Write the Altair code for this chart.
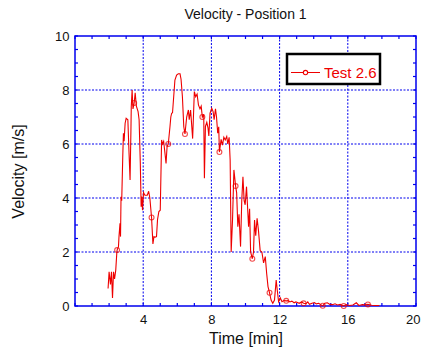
import altair as alt
import pandas as pd

# ---- data ----
time_min = [1.94, 2.0, 2.08, 2.14, 2.2, 2.26, 2.32, 2.39, 2.45, 2.47, 2.55, 2.58, 2.64, 2.67, 2.7,
            2.74, 2.8, 2.84, 2.88, 2.94, 3.0, 3.1, 3.17, 3.23, 3.28, 3.3, 3.35, 3.4, 3.47, 3.53,
            3.6, 3.7, 3.76, 3.83, 3.88, 3.92, 3.96, 4.02, 4.1, 4.16, 4.24, 4.32, 4.39, 4.49, 4.57,
            4.63, 4.7, 4.78, 4.84, 4.92, 5.0, 5.08, 5.13, 5.2, 5.27, 5.34, 5.4, 5.47, 5.57, 5.62,
            5.67, 5.72, 5.86, 5.96, 6.06, 6.16, 6.22, 6.3, 6.38, 6.45, 6.55, 6.65, 6.7, 6.78, 6.9,
            7.0, 7.08, 7.16, 7.24, 7.33, 7.4, 7.47, 7.55, 7.59, 7.65, 7.73, 7.8, 7.85, 7.92, 8.02,
            8.1, 8.16, 8.24, 8.3, 8.37, 8.43, 8.47, 8.57, 8.65, 8.73, 8.81, 8.9, 8.96, 9.04, 9.1,
            9.16, 9.24, 9.32, 9.42, 9.48, 9.55, 9.62, 9.71, 9.78, 9.85, 9.92, 9.98, 10.06, 10.18,
            10.24, 10.3, 10.4, 10.47, 10.53, 10.6, 10.68, 10.76, 10.86, 10.96, 11.06, 11.16, 11.24,
            11.32, 11.41, 11.5, 11.6, 11.7, 11.8, 11.86, 11.94, 12.04, 12.14, 12.25, 12.39, 12.5,
            12.6, 12.72, 12.85, 12.95, 13.05, 13.15, 13.28, 13.41, 13.55, 13.65, 13.75, 13.9, 14.05,
            14.15, 14.3, 14.4, 14.53, 14.65, 14.8, 14.95, 15.1, 15.25, 15.4, 15.55, 15.76, 15.9,
            16.1, 16.3, 16.5, 16.65, 16.85, 17.0, 17.18, 17.4, 17.6, 17.85]
velocity = [0.65, 1.27, 0.8, 1.27, 0.3, 1.27, 1.0, 1.33, 1.95, 2.07, 2.2, 2.57, 3.06, 2.57, 4.05,
            3.9, 5.5, 6.4, 6.1, 6.77, 6.95, 6.9, 5.65, 4.67, 6.5, 7.38, 8.0, 7.3, 7.52, 7.9,
            7.4, 7.2, 6.9, 5.3, 3.68, 4.05, 3.55, 4.2, 4.1, 4.1, 4.1, 4.25, 4.0, 3.28, 2.3,
            2.57, 2.55, 2.57, 3.2, 3.5, 3.55, 6.15, 6.0, 6.1, 5.7, 5.28, 5.9, 6.0, 6.64, 7.0,
            7.14, 7.16, 8.37, 8.55, 8.6, 8.6, 8.4, 7.75, 6.64, 6.37, 7.0, 7.26, 6.9, 7.26, 6.2,
            7.94, 7.75, 7.85, 7.45, 7.3, 7.4, 7.0, 7.1, 4.73, 6.65, 6.8, 6.6, 6.3, 7.14, 7.32,
            7.2, 6.9, 7.3, 7.0, 6.4, 6.64, 5.7, 6.17, 5.96, 6.25, 6.15, 6.28, 6.0, 6.25, 5.4,
            2.0, 3.2, 5.04, 4.44, 4.2, 2.94, 3.4, 2.2, 3.9, 4.79, 3.9, 3.75, 4.42, 2.94,
            3.6, 2.0, 1.75, 2.0, 3.18, 2.6, 3.25, 2.8, 2.05, 2.0, 1.6, 1.83, 1.21,
            0.72, 0.49, 0.22, 0.1, 0.22, 0.96, 0.6, 0.16, 0.3, 0.16, 0.2, 0.19, 0.2,
            0.15, 0.18, 0.12, 0.15, 0.13, 0.1, 0.15, 0.1, 0.09, 0.15, 0.06, 0.1, 0.13,
            0.08, 0.1, 0.05, 0.01, 0.1, 0.12, 0.06, 0.05, 0.08, 0.04, 0.06, 0.0, 0.05,
            0.02, 0.04, 0.12, 0.02, 0.05, 0.04, 0.06, 0.03, 0.02, 0.02]
marker_time = [2.47, 3.47, 4.49, 5.47, 6.45, 7.47, 8.47, 9.42, 10.4, 11.41, 12.39, 13.41, 14.53, 15.76, 17.18]
marker_vel = [2.07, 7.52, 3.28, 6.0, 6.37, 7.0, 5.7, 4.44, 1.75, 0.49, 0.19, 0.1, 0.01, 0.0, 0.06]
series_name = ["Test 2.6"]

x_label_values = [4, 8, 12, 16, 20]
y_label_values = [0, 2, 4, 6, 8, 10]
x_grid = [4, 8, 12, 16]
y_grid = [2, 4, 6, 8]
x_ticks = list(range(0, 21))
y_ticks = [i * 0.5 for i in range(0, 21)]

X_DOM = [0, 20]
Y_DOM = [0, 10]
W, H = 341, 270
TICK_PX = 3.0

RED = "#ee0000"
BLUE = "#0000ee"
INK = "#111111"
FONT = "Liberation Sans"

line_df = pd.DataFrame({"t": time_min, "v": velocity, "series": series_name[0]})
mark_df = pd.DataFrame({"t": marker_time, "v": marker_vel})

xs = alt.Scale(domain=X_DOM, nice=False, zero=False)
ys = alt.Scale(domain=Y_DOM, nice=False, zero=False)

x_axis = alt.Axis(values=x_label_values, ticks=False, domain=False, grid=False,
                  labelPadding=7, titlePadding=4, labelFontSize=13, labelFlush=True,
                  labelFlushOffset=4, labelBound=False, titleFontSize=16,
                  titleFontWeight="normal",
                  labelColor=INK, titleColor=INK, labelFont=FONT, titleFont=FONT)
y_axis = alt.Axis(values=y_label_values, ticks=False, domain=False, grid=False,
                  labelPadding=6, titlePadding=28, labelFontSize=13, labelFlush=False,
                  titleFontSize=16, titleFontWeight="normal",
                  labelColor=INK, titleColor=INK, labelFont=FONT, titleFont=FONT)
X_TITLE = "Time [min]"
Y_TITLE = "Velocity [m/s]"


def X(field):
    return alt.X(field, scale=xs, axis=x_axis, title=X_TITLE)


def Y(field):
    return alt.Y(field, scale=ys, axis=y_axis, title=Y_TITLE)


dx = TICK_PX * (X_DOM[1] - X_DOM[0]) / W
dy = TICK_PX * (Y_DOM[1] - Y_DOM[0]) / H

vt = pd.DataFrame(
    [{"x": t, "y": Y_DOM[0], "y2": Y_DOM[0] + dy} for t in x_ticks]
    + [{"x": t, "y": Y_DOM[1], "y2": Y_DOM[1] - dy} for t in x_ticks]
)
ht = pd.DataFrame(
    [{"y": t, "x": X_DOM[0], "x2": X_DOM[0] + dx} for t in y_ticks]
    + [{"y": t, "x": X_DOM[1], "x2": X_DOM[1] - dx} for t in y_ticks]
)

xgrid = alt.Chart(pd.DataFrame({"x": x_grid})).mark_rule(
    color=BLUE, strokeWidth=1, strokeDash=[2, 1.5]
).encode(x=X("x:Q"))
ygrid = alt.Chart(pd.DataFrame({"y": y_grid})).mark_rule(
    color=BLUE, strokeWidth=1, strokeDash=[2, 1.5]
).encode(y=Y("y:Q"))

vticks = alt.Chart(vt).mark_rule(color=BLUE, strokeWidth=1.2).encode(
    x=X("x:Q"), y=Y("y:Q"), y2="y2:Q",
)
hticks = alt.Chart(ht).mark_rule(color=BLUE, strokeWidth=1.2).encode(
    y=Y("y:Q"), x=X("x:Q"), x2="x2:Q",
)

legend_path = ("M-1,0L-0.15,0M0.15,0L1,0"
               "M0.15,0A0.15,0.15,0,1,1,-0.15,0A0.15,0.15,0,1,1,0.15,0")

line = alt.Chart(line_df).mark_line(strokeWidth=1.1).encode(
    x=X("t:Q"),
    y=Y("v:Q"),
    color=alt.Color("series:N", scale=alt.Scale(domain=series_name, range=[RED]),
                    legend=alt.Legend(title=None, orient="none", legendX=212, legendY=18,
                                      strokeColor="black", padding=3,
                                      fillColor="white",
                                      symbolType=legend_path, symbolSize=841,
                                      symbolStrokeWidth=1.1, symbolFillColor="transparent",
                                      symbolStrokeColor=RED,
                                      labelColor=RED, labelFontSize=15,
                                      labelFont=FONT, labelOffset=3)),
)

points = alt.Chart(mark_df).mark_point(shape="circle", filled=False, size=24,
                                        strokeWidth=1.1, color=RED).encode(
    x=X("t:Q"), y=Y("v:Q"),
)

chart = alt.layer(xgrid, ygrid, vticks, hticks, line, points).properties(
    width=W, height=H,
    background="white",
    title=alt.TitleParams("Velocity - Position 1", fontSize=14, fontWeight="normal",
                          font=FONT, color=INK, offset=8, anchor="middle"),
    autosize=alt.AutoSizeParams(type="none"),
    padding={"left": 75, "top": 36, "right": 6, "bottom": 43},
).configure_view(stroke=BLUE, strokeWidth=1.5).configure_legend(
    strokeWidth=2.5, strokeColor="black"
)

chart.save("out.html", embed_options={"renderer": "svg", "actions": False})
